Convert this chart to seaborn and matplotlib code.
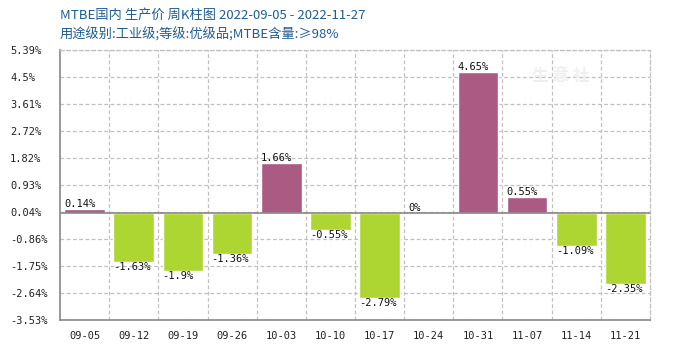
import matplotlib
matplotlib.use("Agg")
import matplotlib.pyplot as plt
import seaborn as sns
import pandas as pd
import numpy as np

categories = ["09-05", "09-12", "09-19", "09-26", "10-03", "10-10", "10-17", "10-24", "10-31", "11-07", "11-14", "11-21"]
values = [0.14, -1.63, -1.9, -1.36, 1.66, -0.55, -2.79, 0, 4.65, 0.55, -1.09, -2.35]
value_labels = ["0.14%", "-1.63%", "-1.9%", "-1.36%", "1.66%", "-0.55%", "-2.79%", "0%", "4.65%", "0.55%", "-1.09%", "-2.35%"]
ytick_values = [5.39, 4.5, 3.61, 2.72, 1.82, 0.93, 0.04, -0.86, -1.75, -2.64, -3.53]
ytick_labels = ["5.39%", "4.5%", "3.61%", "2.72%", "1.82%", "0.93%", "0.04%", "-0.86%", "-1.75%", "-2.64%", "-3.53%"]
title1 = "MTBE国内 生产价 周K柱图 2022-09-05 - 2022-11-27"
title2 = "用途级别:工业级;等级:优级品;MTBE含量:≥98%"

UP = "#AB5A83"
DOWN = "#ADD633"

sns.set_theme(style="white")
plt.rcParams['font.family'] = ['Noto Sans CJK SC', 'DejaVu Sans']

df = pd.DataFrame({"cat": categories, "val": values})
colors = {c: (UP if v >= 0 else DOWN) for c, v in zip(categories, values)}

fig = plt.figure(figsize=(7, 3.5), dpi=100)
ax = fig.add_axes([60/700, 30/350, 590/700, 270/350])

sns.barplot(data=df, x="cat", y="val", hue="cat", palette=colors, legend=False,
            width=0.83, ax=ax, saturation=1, zorder=3)

ax.set_ylim(-3.53, 5.39)
ax.set_xlim(-0.5, len(categories) - 0.5)
ax.set_yticks(ytick_values)
ax.set_yticklabels(ytick_labels)
ax.set_xlabel("")
ax.set_ylabel("")

mono = "DejaVu Sans Mono"
for lab in ax.get_yticklabels() + ax.get_xticklabels():
    lab.set_fontfamily(mono)
    lab.set_fontsize(7.5)
    lab.set_color("#222222")
for lab in ax.get_yticklabels():
    lab.set_horizontalalignment("left")
ax.tick_params(axis="x", length=0, pad=8)
ax.tick_params(axis="y", length=0, pad=36)

# grid
ax.set_xticks(np.arange(0.5, len(categories) - 0.5, 1), minor=True)
ax.tick_params(axis="x", which="minor", length=0)
ax.grid(axis="y", which="major", linestyle=(0, (3, 2)), color="#c0c0c0", linewidth=0.9, zorder=0)
ax.grid(axis="x", which="minor", linestyle=(0, (3, 2)), color="#c0c0c0", linewidth=0.9, zorder=0)
ax.grid(axis="x", which="major", visible=False)
ax.axhline(0, color="#888888", linewidth=1.2, zorder=4)

for s in ["top", "right"]:
    ax.spines[s].set_visible(True)
    ax.spines[s].set_color("#c0c0c0")
    ax.spines[s].set_linestyle((0, (3, 2)))
    ax.spines[s].set_linewidth(0.9)
for s in ["left", "bottom"]:
    ax.spines[s].set_color("#888888")
    ax.spines[s].set_linewidth(1.2)

for i, (v, t) in enumerate(zip(values, value_labels)):
    x0 = i - 0.83 / 2
    if v >= 0:
        ax.text(x0, v, t, ha="left", va="bottom", fontsize=7.5, family=mono, color="#111111", zorder=5)
    else:
        ax.text(x0, v, t, ha="left", va="top", fontsize=7.5, family=mono, color="#111111", zorder=5)

# watermark
ax.text(0.80, 0.905, "生 意 社", transform=ax.transAxes, fontsize=12, color="#efefef",
        ha="left", va="center", zorder=1, fontweight="bold")

fig.text(60/700, 1 - 15/350, title1, fontsize=9.5, color="#1E5C94", ha="left", va="center",
         family=['Noto Sans CJK SC', 'DejaVu Sans'])
fig.text(60/700, 1 - 35/350, title2, fontsize=9.5, color="#1E5C94", ha="left", va="center",
         family=['Noto Sans CJK SC', 'DejaVu Sans'])

fig.savefig("out.png", dpi=100)
